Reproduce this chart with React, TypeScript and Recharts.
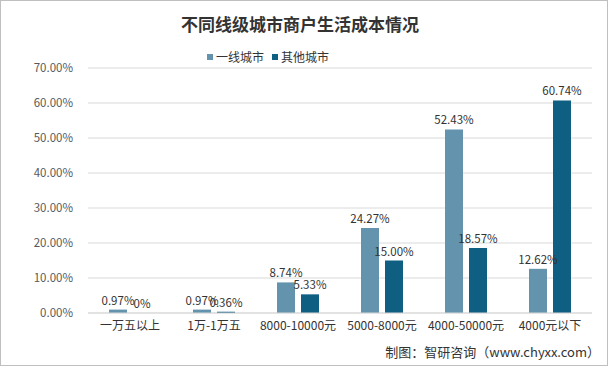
import React from 'react';
import { BarChart, Bar, XAxis, YAxis, CartesianGrid, LabelList } from 'recharts';

const categories = ['一万五以上', '1万-1万五', '8000-10000元', '5000-8000元', '4000-50000元', '4000元以下'];
const firstTier = [0.97, 0.97, 8.74, 24.27, 52.43, 12.62];
const otherCities = [0, 0.36, 5.33, 15.0, 18.57, 60.74];
const firstTierLabels = ['0.97%', '0.97%', '8.74%', '24.27%', '52.43%', '12.62%'];
const otherLabels = ['0%', '0.36%', '5.33%', '15.00%', '18.57%', '60.74%'];
const yTicks = [0, 10, 20, 30, 40, 50, 60, 70];
const seriesNames = ['一线城市', '其他城市'];
const seriesColors = ['#6393ad', '#0e5f82'];

const data = categories.map((c, i) => ({
  name: c,
  a: firstTier[i],
  b: otherCities[i],
  la: firstTierLabels[i],
  lb: otherLabels[i],
}));

const FONT = '"Noto Sans CJK SC", "Noto Sans", sans-serif';
const BAR = 18;
const GAP = 6;
const labelStyle = { fontSize: 11.5, fill: '#333', fontFamily: FONT };

// Labels for series "a"; also draws the label of a zero-height "b" bar (which Recharts skips)
const labelA = (props: any) => {
  const { x, y, width, height, index } = props;
  const cx = Number(x) + Number(width) / 2;
  const items = [
    <text key="a" x={cx} y={Number(y) - 5} textAnchor="middle" style={labelStyle}>
      {firstTierLabels[index]}
    </text>,
  ];
  if (otherCities[index] === 0) {
    const bx = Number(x) + Number(width) + GAP + Number(width) / 2;
    const base = Number(y) + Number(height);
    items.push(
      <text key="b" x={bx} y={base - 5} textAnchor="middle" style={labelStyle}>
        {otherLabels[index]}
      </text>
    );
  }
  return <g>{items}</g>;
};

export default function App() {
  return (
    <div style={{ position: 'absolute', left: 0, top: 0, width: 608, height: 366, background: '#fff', fontFamily: FONT }}>
      <div style={{ position: 'absolute', left: 0, top: 0, width: 606, height: 364, border: '1px solid #bfbfbf' }} />
      <div style={{ position: 'absolute', left: 0, top: 11, width: 600, textAlign: 'center', fontSize: 17, fontWeight: 'bold', color: '#333' }}>
        不同线级城市商户生活成本情况
      </div>
      <div style={{ position: 'absolute', left: 207, top: 48, display: 'flex', alignItems: 'center', fontSize: 12, color: '#333' }}>
        {seriesNames.map((n, i) => (
          <span key={n} style={{ display: 'flex', alignItems: 'center', marginRight: 8 }}>
            <span style={{ display: 'inline-block', width: 6, height: 6, background: seriesColors[i], marginRight: 3 }} />
            {n}
          </span>
        ))}
      </div>
      <div style={{ position: 'absolute', left: 0, top: 0 }}>
        <BarChart
          width={608}
          height={366}
          data={data}
          margin={{ top: 68, right: 16, left: 0, bottom: 23 }}
          barSize={BAR}
          barGap={GAP}
        >
          <CartesianGrid vertical={false} stroke="#d9d9d9" />
          <XAxis
            dataKey="name"
            height={30}
            tickLine={false}
            axisLine={{ stroke: '#d9d9d9' }}
            tick={{ fontSize: 12, fill: '#333', fontFamily: FONT }}
            interval={0}
          />
          <YAxis
            width={88}
            domain={[0, 70]}
            ticks={yTicks}
            tickFormatter={(v: number) => v.toFixed(2) + '%'}
            axisLine={false}
            tickLine={false}
            tick={{ fontSize: 11.5, fill: '#595959', fontFamily: FONT }}
            tickMargin={9}
          />
          <Bar dataKey="a" name={seriesNames[0]} fill={seriesColors[0]} isAnimationActive={false}>
            <LabelList dataKey="la" content={labelA} />
          </Bar>
          <Bar dataKey="b" name={seriesNames[1]} fill={seriesColors[1]} isAnimationActive={false}>
            <LabelList dataKey="lb" position="top" offset={5} style={labelStyle} />
          </Bar>
        </BarChart>
      </div>
      <div style={{ position: 'absolute', right: 8, top: 342, fontSize: 13, color: '#333' }}>
        制图：智研咨询（www.chyxx.com）
      </div>
    </div>
  );
}
